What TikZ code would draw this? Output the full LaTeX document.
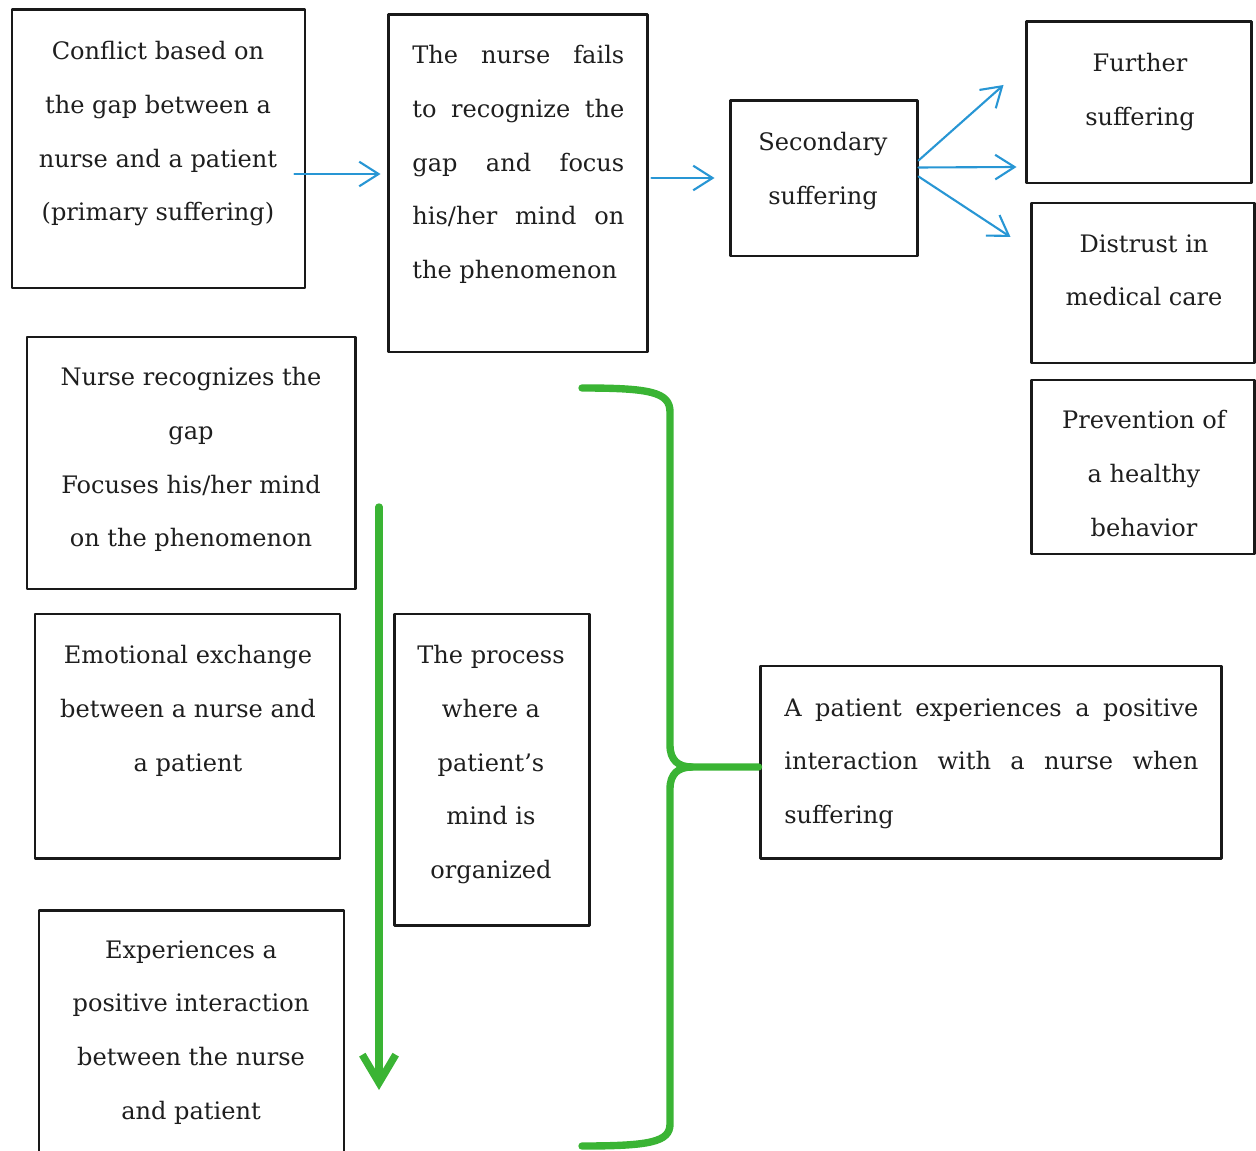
\documentclass[tikz,border=0pt]{standalone}
\usepackage{fontspec}
\setmainfont{DejaVu Serif}
\usepackage{tikz}
\usetikzlibrary{positioning,arrows.meta}
\definecolor{linkblue}{RGB}{40,150,212}
\definecolor{bracegreen}{RGB}{58,180,52}
\definecolor{boxline}{RGB}{25,25,25}
\definecolor{inktext}{RGB}{30,30,30}

\begin{document}
\begin{tikzpicture}[x=0.02cm, y=-0.02cm, line join=round, line cap=round,
  box/.style 2 args={draw=boxline, line width=1.7pt, inner sep=0pt,
    minimum width=#1*0.02cm, minimum height=#2*0.02cm},
  txt/.style={font=\fontsize{13.7}{30.6}\selectfont, text=inktext, align=center,
    inner sep=0pt, anchor=north},
  jtxt/.style={txt, align=justify, text width=#1*0.02cm, anchor=north west},
  flow/.style={draw=linkblue, line width=1.2pt, -{Straight Barb[length=11pt,width=14pt]}},
  bracestroke/.style={draw=bracegreen, line width=4.2pt,
    preaction={draw=black!12, transform canvas={yshift=-1.5pt}}}]
\clip (0,0) rectangle (1256,1151);

\node[box={293}{278}] (conflict) at (158.5,149) {};
\node[box={259}{337}] (fails) at (517.5,183.5) {};
\node[box={187}{155}] (secondary) at (823.5,178.5) {};
\node[box={225}{161}] (further) at (1138.5,102.5) {};
\node[box={223}{160}] (distrust) at (1142.5,283) {};
\node[box={223}{174}] (prevention) at (1142.5,467) {};
\node[box={328}{252}] (recognizes) at (191,463) {};
\node[box={305}{244}] (emotional) at (187.5,736) {};
\node[box={305}{270}] (experiences) at (191.5,1045) {};
\node[box={195}{311}] (process) at (491.5,769.5) {};
\node[box={461}{192}] (positive) at (990.5,762) {};

\node[txt] (conflict-t) at (158,41) {Conflict based on\\the gap between a\\nurse and a patient\\(primary suffering)};
\node[jtxt=212] (fails-t) at (412,45) {The nurse fails\linebreak to recognize the\linebreak gap and focus\linebreak his/her mind on\linebreak the phenomenon};
\node[txt] (secondary-t) at (823,132) {Secondary\\suffering};
\node[txt] (further-t) at (1140,53) {Further\\suffering};
\node[txt] (distrust-t) at (1144,234) {Distrust in\\medical care};
\node[txt] (prevention-t) at (1144,410) {Prevention of\\a healthy\\behavior};
\node[txt] (recognizes-t) at (191,367) {Nurse recognizes the\\gap\\Focuses his/her mind\\on the phenomenon};
\node[txt] (emotional-t) at (188,645) {Emotional exchange\\between a nurse and\\a patient};
\node[txt] (experiences-t) at (191,940) {Experiences a\\positive interaction\\between the nurse\\and patient};
\node[txt] (process-t) at (491,645) {The process\\where a\\patient’s\\mind is\\organized};
\node[jtxt=414] (positive-t) at (784,698) {A patient experiences a positive\linebreak interaction with a nurse when\linebreak suffering};

\draw[flow] ([shift={(-12,25)}]conflict.east) -- ([shift={(-6,-9.5)}]fails.west);
\draw[flow] ([shift={(3,-5.5)}]fails.east) -- ([shift={(-14,-0.5)}]secondary.west);
\draw[flow] ([shift={(0,-18)}]secondary.east) -- ([shift={(-21,-17.5)}]further.west);
\draw[flow] ([shift={(0,-11)}]secondary.east) -- ([shift={(-8,64.5)}]further.west);
\draw[flow] ([shift={(0,-2)}]secondary.east) -- ([shift={(-19,-46)}]distrust.west);

\coordinate (flowtop) at (379,507);
\coordinate (flowbot) at (379,1090);
\draw[bracestroke, -{Straight Barb[length=16pt,width=19pt]}] (flowtop) -- (flowbot);

\coordinate (bracetop) at (582,388);
\coordinate (bracebot) at (582,1146);
\draw[bracestroke] (bracetop) .. controls (650,388) and (670,392) .. (670,412)
  -- (670,745) .. controls (670,760) and (678,767) .. (692,767) -- ([shift={(0,5)}]positive.west);
\draw[bracestroke] (692,767) .. controls (678,767) and (670,774) .. (670,789)
  -- (670,1124) .. controls (670,1142) and (650,1146) .. (bracebot);
\end{tikzpicture}
\end{document}
